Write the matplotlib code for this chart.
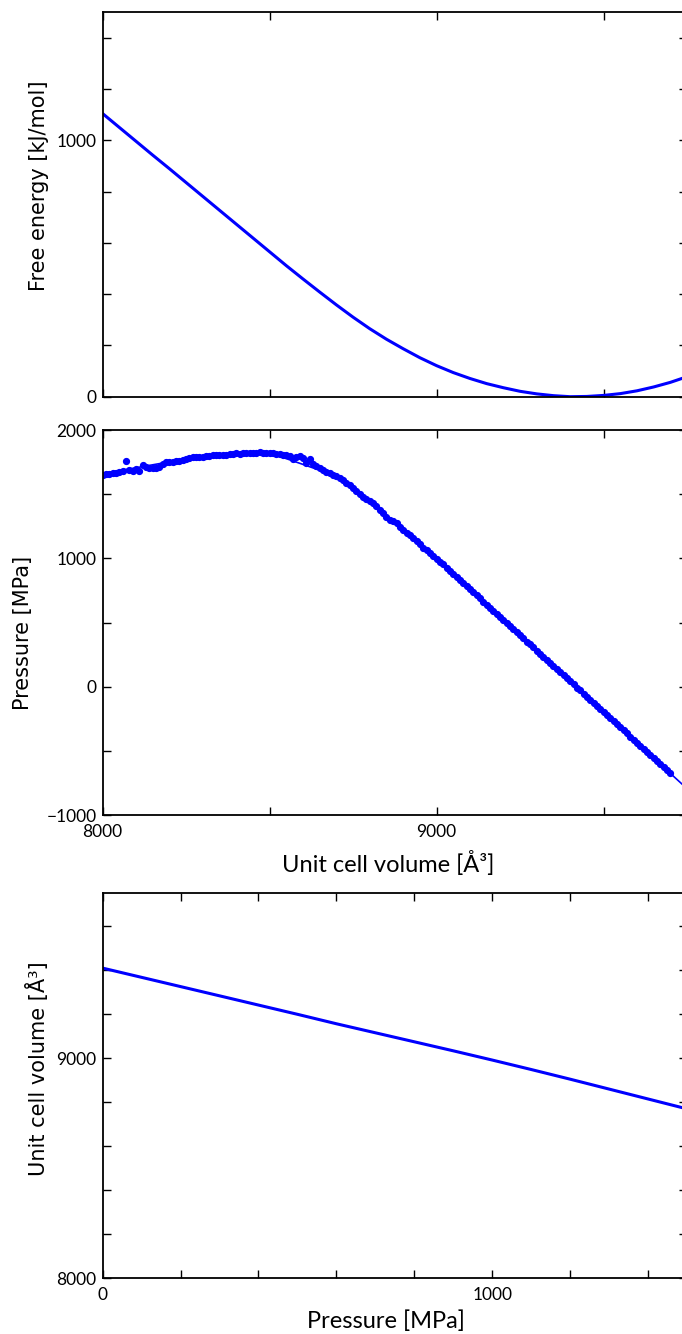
import numpy as np
import matplotlib
matplotlib.use('Agg')
import matplotlib.pyplot as plt
from matplotlib.ticker import FixedLocator, FixedFormatter

# free energy vs volume
fe_vol = np.arange(8000, 9751, 50)
free_energy = [1104, 1050, 996, 942, 889, 835, 781, 727, 673, 619,
               565, 511, 459, 408, 358, 310, 265, 224, 187, 152,
               121, 94, 71, 51, 35, 21, 11, 4, 0, 1,
               5, 12, 23, 38, 56, 78]

# simulated pressure points
p_vol = np.arange(8000, 9701, 10)
pressure = [1650, 1655, 1658, 1664, 1666, 1671, 1678, 1762, 1690, 1678,
            1695, 1684, 1726, 1712, 1705, 1704, 1708, 1715, 1732, 1751,
            1750, 1752, 1756, 1762, 1764, 1772, 1779, 1786, 1793, 1789,
            1792, 1794, 1799, 1803, 1806, 1805, 1808, 1809, 1812, 1815,
            1818, 1817, 1820, 1819, 1821, 1823, 1824, 1825, 1824, 1824,
            1822, 1820, 1816, 1812, 1806, 1803, 1795, 1778, 1790, 1796,
            1780, 1745, 1772, 1738, 1722, 1705, 1690, 1675, 1662, 1652,
            1642, 1630, 1610, 1590, 1568, 1545, 1522, 1500, 1480, 1464,
            1448, 1430, 1405, 1378, 1350, 1320, 1300, 1288, 1272, 1248,
            1222, 1200, 1180, 1160, 1138, 1112, 1085, 1063, 1042, 1020,
            999, 975, 953, 926, 903, 880, 852, 832, 808, 786,
            760, 737, 712, 690, 664, 641, 617, 594, 569, 546,
            521, 496, 473, 450, 425, 402, 378, 353, 330, 307,
            282, 258, 235, 210, 187, 163, 139, 116, 91, 68,
            43, 19, -5, -28, -53, -76, -100, -125, -148, -171,
            -196, -220, -244, -267, -292, -316, -339, -363, -388, -411,
            -435, -459, -482, -507, -531, -554, -578, -603, -626, -650,
            -674]

# fitted pressure curve
fit_vol = [8000, 8250, 8500, 8700, 8900, 9100, 9300, 9500, 9700, 9750]
fit_pres = [1660, 1775, 1822, 1642, 1222, 760, 282, -196, -674, -793]

# volume vs pressure
vp_pres = [0, 100, 200, 300, 400, 500, 600, 700, 800, 900,
           1000, 1100, 1200, 1300, 1400, 1500]
vp_vol = [9410, 9368, 9326, 9284, 9242, 9200, 9157, 9116, 9075, 9034,
          8992, 8949, 8905, 8860, 8815, 8770]

tick_font = ['Lato', 'DejaVu Sans']
W, H = 682, 1334
fig = plt.figure(figsize=(W/100, H/100), dpi=100, facecolor='white')

def px_axes(top, bottom):
    left, right = 102.6, 687.1
    return fig.add_axes([left/W, 1 - bottom/H, (right-left)/W, (bottom-top)/H])

def style(ax, xt, xl, yt, yl):
    ax.xaxis.set_major_locator(FixedLocator(xt))
    ax.xaxis.set_major_formatter(FixedFormatter(xl))
    ax.yaxis.set_major_locator(FixedLocator(yt))
    ax.yaxis.set_major_formatter(FixedFormatter(yl))
    ax.tick_params(direction='in', length=5.5, width=1, top=True, right=True,
                   labelsize=12.5, colors='black')
    ax.tick_params(axis='y', pad=4.5)
    ax.tick_params(axis='x', pad=6)
    for lab in ax.get_xticklabels() + ax.get_yticklabels():
        lab.set_family(tick_font)
    for s in ax.spines.values():
        s.set_linewidth(1.3)

ax1 = px_axes(12, 396.7)
ax1.plot(fe_vol, free_energy, color='#0000ff', lw=2.2)
ax1.set_xlim(8000, 9750)
ax1.set_ylim(0, 1500)
style(ax1, [8000, 8500, 9000, 9500], ['', '', '', ''],
      list(range(0, 1401, 200)), ['0', '', '', '', '', '1000', '', ''])
ax1.set_ylabel('Free energy [kJ/mol]', fontsize=15, family='DejaVu Sans')
ax1.yaxis.set_label_coords(-0.0922, 0.548)

ax2 = px_axes(430, 815.3)
ax2.plot(fit_vol, fit_pres, color='#0000ff', lw=1.2)
ax2.plot(p_vol, pressure, 'o', color='#0000ff', mec='#0000ff', ms=4.2)
ax2.set_xlim(8000, 9750)
ax2.set_ylim(-1000, 2000)
style(ax2, [8000, 8500, 9000, 9500], ['8000', '', '9000', ''],
      [-1000, -500, 0, 500, 1000, 1500, 2000],
      ['\u22121000', '', '0', '', '1000', '', '2000'])
ax2.set_ylabel('Pressure [MPa]', fontsize=15, family='DejaVu Sans')
ax2.yaxis.set_label_coords(-0.1198, 0.474)
ax2.set_xlabel('Unit cell volume [Å³]', fontsize=17, family=tick_font)
ax2.xaxis.label.set_va('baseline')
ax2.xaxis.set_label_coords(0.489, -0.146)

ax3 = px_axes(893.3, 1278.3)
ax3.plot(vp_pres, vp_vol, color='#0000ff', lw=2.2)
ax3.set_xlim(0, 1500)
ax3.set_ylim(8000, 9750)
style(ax3, list(range(0, 1401, 200)), ['0', '', '', '', '', '1000', '', ''],
      list(range(8000, 9601, 200)), ['8000', '', '', '', '', '9000', '', '', ''])
ax3.set_ylabel('Unit cell volume [Å³]', fontsize=15, family='DejaVu Sans')
ax3.yaxis.set_label_coords(-0.0922, 0.545)
ax3.set_xlabel('Pressure [MPa]', fontsize=17, family=tick_font)
ax3.xaxis.label.set_va('baseline')
ax3.xaxis.set_label_coords(0.484, -0.129)

fig.savefig('out.png', dpi=100, facecolor='white')
